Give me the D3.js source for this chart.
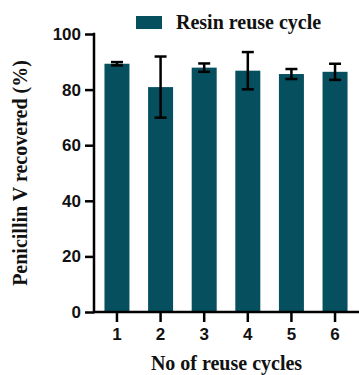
<!DOCTYPE html>
<html>
<head>
<meta charset="utf-8">
<script src="https://cdn.jsdelivr.net/npm/d3@7"></script>
<style>
  body { margin: 0; background: #fff; }
  svg { display: block; }
  .tick text { font-family: "Liberation Sans", Arial, sans-serif; font-weight: bold; font-size: 17px; fill: #111; }
  .title { font-family: "Liberation Serif", "Times New Roman", serif; font-weight: bold; fill: #111; }
</style>
</head>
<body>
<svg id="chart" width="359" height="375"></svg>
<script>
// data
const cycles = ['1', '2', '3', '4', '5', '6'];
const recovered = [89.3, 80.9, 87.9, 86.8, 85.6, 86.4];
const errors = [0.6, 11.0, 1.5, 6.7, 1.8, 2.9];
const yTicks = [0, 20, 40, 60, 80, 100];

const barColor = '#064f5f';

const svg = d3.select('#chart');
const margin = { left: 94, right: 1, top: 34, bottom: 63 };
const width = 359, height = 375;

const x = d3.scaleBand()
  .domain(cycles)
  .range([margin.left, width - margin.right])
  .paddingInner(0.427)
  .paddingOuter(0.24);

const y = d3.scaleLinear()
  .domain([0, 100])
  .range([height - margin.bottom, margin.top]);

const data = cycles.map((c, i) => ({ cycle: c, value: recovered[i], err: errors[i] }));

// bars
svg.selectAll('rect.bar')
  .data(data)
  .join('rect')
  .attr('class', 'bar')
  .attr('x', d => x(d.cycle))
  .attr('width', x.bandwidth())
  .attr('y', d => y(d.value))
  .attr('height', d => y(0) - y(d.value))
  .attr('fill', barColor);

// error bars
const capW = 12;
const eb = svg.append('g').attr('stroke', '#000').attr('stroke-width', 2.5);
data.forEach(d => {
  const cx = x(d.cycle) + x.bandwidth() / 2;
  eb.append('line')
    .attr('x1', cx).attr('x2', cx)
    .attr('y1', y(d.value + d.err)).attr('y2', y(d.value - d.err));
  [d.value + d.err, d.value - d.err].forEach(v => {
    eb.append('line')
      .attr('x1', cx - capW / 2).attr('x2', cx + capW / 2)
      .attr('y1', y(v)).attr('y2', y(v));
  });
});

// y axis
const yAxis = svg.append('g')
  .attr('transform', `translate(${margin.left},0)`)
  .call(d3.axisLeft(y).tickValues(yTicks).tickSize(9).tickPadding(4));

// x axis
const xAxis = svg.append('g')
  .attr('transform', `translate(0,${y(0)})`)
  .call(d3.axisBottom(x).tickSize(10).tickPadding(6));

[yAxis, xAxis].forEach(a => {
  a.selectAll('path, line').attr('stroke', '#000').attr('stroke-width', 2.5);
  a.select('.domain').attr('d', null);
});
yAxis.append('line')
  .attr('x1', 0).attr('x2', 0)
  .attr('y1', y(100) - 1.25).attr('y2', y(0) + 1.25)
  .attr('stroke', '#000').attr('stroke-width', 2.5);
xAxis.append('line')
  .attr('x1', margin.left).attr('x2', width)
  .attr('y1', 0).attr('y2', 0)
  .attr('stroke', '#000').attr('stroke-width', 2.5);

// axis titles
svg.append('text')
  .attr('class', 'title')
  .attr('transform', `translate(27,${(y(0) + y(100)) / 2}) rotate(-90)`)
  .attr('text-anchor', 'middle')
  .style('font-size', '20px')
  .text('Penicillin V recovered (%)');

svg.append('text')
  .attr('class', 'title')
  .attr('x', (margin.left + width) / 2)
  .attr('y', 370)
  .attr('text-anchor', 'middle')
  .style('font-size', '20px')
  .text('No of reuse cycles');

// legend
const legend = svg.append('g');
legend.append('rect')
  .attr('x', 136).attr('y', 16)
  .attr('width', 26).attr('height', 13)
  .attr('fill', barColor);
legend.append('text')
  .attr('class', 'title')
  .attr('x', 176).attr('y', 28.5)
  .style('font-size', '20px')
  .text('Resin reuse cycle');
</script>
</body>
</html>
